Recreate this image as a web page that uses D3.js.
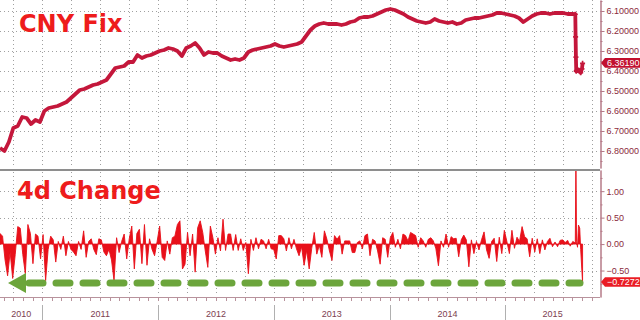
<!DOCTYPE html>
<html>
<head>
<meta charset="utf-8">
<script src="https://cdn.jsdelivr.net/npm/d3@7"></script>
<style>
  body { margin: 0; background: #fff; }
  svg { display: block; }
  text { font-family: "Liberation Sans", Arial, sans-serif; }
</style>
</head>
<body>
<svg id="chart" width="640" height="320"></svg>
<script>
// CNY fix, read every 14 days from 2010-08-20 up to the devaluation
const fixStart = "2010-08-20";
const fixStepDays = 14;
const fixValues = [
  6.785, 6.800, 6.755, 6.685, 6.675, 6.630, 6.635, 6.665, 6.645, 6.655,
  6.600, 6.585, 6.580, 6.575, 6.565, 6.555, 6.535, 6.515, 6.495, 6.490,
  6.480, 6.470, 6.465, 6.455, 6.445, 6.415, 6.385, 6.380, 6.375, 6.355,
  6.355, 6.320, 6.335, 6.325, 6.320, 6.310, 6.300, 6.295, 6.285, 6.290,
  6.300, 6.325, 6.285, 6.275, 6.260, 6.285, 6.320, 6.305, 6.310, 6.310,
  6.325, 6.335, 6.345, 6.340, 6.345, 6.335, 6.305, 6.295, 6.290, 6.285,
  6.280, 6.275, 6.265, 6.275, 6.280, 6.275, 6.270, 6.265, 6.255, 6.225,
  6.195, 6.175, 6.165, 6.160, 6.165, 6.165, 6.165, 6.170, 6.165, 6.155,
  6.150, 6.135, 6.130, 6.130, 6.125, 6.115, 6.105, 6.095, 6.090, 6.095,
  6.105, 6.115, 6.130, 6.140, 6.150, 6.155, 6.160, 6.155, 6.140, 6.150,
  6.155, 6.160, 6.155, 6.165, 6.160, 6.145, 6.140, 6.135, 6.135, 6.130,
  6.125, 6.120, 6.110, 6.110, 6.115, 6.120, 6.125, 6.135, 6.155, 6.140,
  6.125, 6.115, 6.110, 6.110, 6.115, 6.110, 6.110, 6.110, 6.115, 6.115
];
// devaluation days
const devalDates = ["2015-08-10", "2015-08-11", "2015-08-12", "2015-08-13", "2015-08-14",
  "2015-08-17", "2015-08-19", "2015-08-21", "2015-08-25", "2015-08-27", "2015-08-31", "2015-09-02"];
const devalFix = [6.1162, 6.2298, 6.3306, 6.4010, 6.3975,
  6.3969, 6.3963, 6.3966, 6.3987, 6.4085, 6.3893, 6.3619];

// 4d change, read every 8 days from 2010-08-20
const chgStart = "2010-08-20";
const chgStepDays = 8;
const chgValues = [
  0.20, 0.15, -0.30, -0.60, -0.15, -0.65, -0.20, 0.33, 0.30, -0.20,
  -0.56, 0.37, 0.20, -0.37, 0.19, 0.15, -0.28, 0.18, -0.69, -0.10,
  0.15, 0.08, -0.34, 0.05, -0.10, 0.15, -0.22, 0.05, -0.10, -0.15,
  -0.22, 0.05, -0.10, 0.25, -0.25, 0.05, 0.10, -0.10, -0.20, 0.10,
  0.08, -0.15, -0.22, -0.10, -0.30, -0.69, 0.12, -0.16, 0.05, 0.19,
  -0.28, 0.10, 0.34, -0.47, 0.20, 0.28, -0.37, 0.37, -0.40,
  0.10, -0.10, -0.22, 0.05, 0.34, -0.25, -0.31, 0.06, -0.19, 0.12,
  0.15, 0.37, 0.44, -0.47, -0.38, 0.22, -0.22, 0.19, -0.53, 0.31,
  0.44, 0.22, -0.13, -0.44, 0.34, 0.12, -0.19, 0.12, -0.13, 0.47,
  -0.12, 0.19, 0.19, -0.12, 0.18, -0.12, 0.10, -0.12, 0.03, -0.56,
  0.09, -0.12, 0.12, -0.09, 0.09, 0.06, -0.09, 0.09, -0.09, -0.10,
  -0.28, 0.16, 0.16, 0.10, -0.13, 0.12, -0.09, 0.09, -0.09,
  -0.22, -0.05, -0.40, -0.12, -0.47, -0.08, 0.22, -0.19, -0.02, -0.25,
  0.25, 0.09, -0.13, -0.31, 0.16, 0.09, 0.16, -0.19, 0.06, 0.06,
  0.06, -0.16, -0.16, 0.03, 0.06, -0.09, 0.16, 0.19, -0.22, 0.09,
  0.06, -0.13, -0.38, 0.12, 0.09, -0.25, 0.12, 0.22, -0.06, 0.09,
  -0.09, 0.19, 0.16, 0.06, 0.22, 0.19, 0.16, -0.06, 0.12, 0.06,
  -0.06, 0.09, 0.12, 0.06, -0.09, -0.41, 0.06, -0.06, 0.19, -0.06,
  0.14, 0.10, 0.11, -0.24, 0.08, 0.17, 0.08, -0.43, 0.08, -0.18,
  0.05, -0.11, 0.08, 0.23, -0.11, -0.27, 0.05, 0.11, -0.33, 0.13,
  -0.18, 0.26, 0.05, -0.18, 0.26, -0.08, 0.13, 0.05, 0.33, 0.14,
  0.10, -0.24, 0.11, -0.15, 0.10, -0.18, 0.08, -0.11, 0.05, 0.11,
  -0.05, 0.04, -0.05, 0.07, 0.08, 0.03, 0.07, -0.04, 0.05
];
const chgTailDates = ["2015-08-10", "2015-08-12", "2015-08-14", "2015-08-17", "2015-08-20",
  "2015-08-24", "2015-08-27", "2015-09-02"];
const chgTailValues = [0.02, 1.62, 0.05, -0.06, 0.36, 0.30, -0.10, -0.7272];

const fixTicks = [6.1, 6.2, 6.3, 6.4, 6.5, 6.6, 6.7, 6.8];
const chgTicks = [1.0, 0.5, 0.0, -0.5];
const domainStart = "2010-08-20", domainEnd = "2015-10-27";

const parse = d3.utcParse("%Y-%m-%d");
const fixData = fixValues.map((v, i) => ({ date: d3.utcDay.offset(parse(fixStart), i * fixStepDays), value: v }))
  .concat(devalDates.map((d, i) => ({ date: parse(d), value: devalFix[i] })));
const chgData = chgValues.map((v, i) => ({ date: d3.utcDay.offset(parse(chgStart), i * chgStepDays), value: v }))
  .concat(chgTailDates.map((d, i) => ({ date: parse(d), value: chgTailValues[i] })));

const svg = d3.select("#chart");
const right = 600;
const x = d3.scaleUtc().domain([parse(domainStart), parse(domainEnd)]).range([0, right]);
const yTop = d3.scaleLinear().domain([6.045, 6.885]).range([0, 168]);
const yBot = d3.scaleLinear().domain([-1.0, 1.4]).range([297, 170]);

const gridColor = "#a0a0a0";
const axisColor = "#b57a88";
const labelColor = "#8a2a3c";

// grid
const grid = svg.append("g");
const quarters = x.ticks(d3.utcMonth.every(3)).filter(d => x(d) > 1 && x(d) < right - 1);
grid.selectAll(".vt").data(quarters).join("line")
  .attr("x1", d => Math.round(x(d)) + 0.5).attr("x2", d => Math.round(x(d)) + 0.5)
  .attr("y1", 0).attr("y2", 168);
grid.selectAll(".vb").data(quarters).join("line").attr("class", "vb")
  .attr("x1", d => Math.round(x(d)) + 0.5).attr("x2", d => Math.round(x(d)) + 0.5)
  .attr("y1", 172).attr("y2", 296);
grid.selectAll(".ht").data(fixTicks).join("line").attr("class", "ht")
  .attr("x1", 0).attr("x2", right)
  .attr("y1", d => Math.round(yTop(d)) + 0.5).attr("y2", d => Math.round(yTop(d)) + 0.5);
grid.selectAll(".hb").data(chgTicks).join("line").attr("class", "hb")
  .attr("x1", 0).attr("x2", right)
  .attr("y1", d => Math.round(yBot(d)) + 0.5).attr("y2", d => Math.round(yBot(d)) + 0.5);
grid.selectAll("line").attr("stroke", gridColor).attr("stroke-width", 1).attr("stroke-dasharray", "1,3");

// titles
svg.append("text").attr("x", 19).attr("y", 32).text("CNY Fix")
  .style("font-family", "'DejaVu Sans', Verdana, sans-serif").style("font-weight", "bold")
  .style("font-size", "24px").attr("fill", "#ee1c1c");
svg.append("text").attr("x", 17).attr("y", 199).text("4d Change")
  .style("font-family", "'DejaVu Sans', Verdana, sans-serif").style("font-weight", "bold")
  .style("font-size", "24px").attr("fill", "#ee1c1c");

// top series
svg.append("path").datum(fixData)
  .attr("fill", "none").attr("stroke", "#c4173b").attr("stroke-width", 3.8)
  .attr("stroke-linejoin", "round")
  .attr("d", d3.line().x(d => x(d.date)).y(d => yTop(d.value)));
svg.append("g").selectAll("path").data(fixData.slice(fixValues.length)).join("path")
  .attr("transform", d => `translate(${x(d.date)},${yTop(d.value)})`)
  .attr("d", d3.symbol(d3.symbolCross, 14))
  .attr("fill", "#c4173b");

// bottom series
svg.append("clipPath").attr("id", "clipB").append("rect")
  .attr("x", 0).attr("y", 171).attr("width", right).attr("height", 126);
const gB = svg.append("g").attr("clip-path", "url(#clipB)");
gB.append("path").datum(chgData)
  .attr("fill", "#e8101a").attr("stroke", "#e8101a").attr("stroke-width", 0.9)
  .attr("d", d3.area().x(d => x(d.date)).y0(yBot(0)).y1(d => yBot(d.value)));

// panel separator and bottom axis
svg.append("line").attr("x1", 0).attr("x2", right).attr("y1", 170).attr("y2", 170)
  .attr("stroke", "#8e8e8e").attr("stroke-width", 2);
svg.append("line").attr("x1", 0).attr("x2", right).attr("y1", 297.5).attr("y2", 297.5)
  .attr("stroke", "#b8929c").attr("stroke-width", 1);
svg.append("g").selectAll("line").data(x.ticks(d3.utcMonth)).join("line")
  .attr("x1", d => Math.round(x(d)) + 0.5).attr("x2", d => Math.round(x(d)) + 0.5)
  .attr("y1", 298).attr("y2", 301).attr("stroke", "#b8929c");
const years = x.ticks(d3.utcYear);
svg.append("g").selectAll("line").data(years).join("line")
  .attr("x1", d => Math.round(x(d)) + 0.5).attr("x2", d => Math.round(x(d)) + 0.5)
  .attr("y1", 305).attr("y2", 320).attr("stroke", "#b0b0b0");
const yearSpans = [parse(domainStart)].concat(years).map(d => {
  const a = Math.max(0, x(d3.utcYear.floor(d)));
  const b = Math.min(right, x(d3.utcYear.offset(d3.utcYear.floor(d), 1)));
  return { label: d3.utcFormat("%Y")(d), cx: (a + b) / 2 };
});
svg.append("g").selectAll("text").data(yearSpans).join("text")
  .attr("x", d => d.cx).attr("y", 317).attr("text-anchor", "middle")
  .attr("fill", "#7d4050").style("font-size", "9px").text(d => d.label);

// right axes
function styleAxis(g) {
  g.select(".domain").attr("stroke", axisColor);
  g.selectAll(".tick line").attr("stroke", axisColor);
  g.selectAll(".tick text").attr("fill", labelColor).style("font-size", "9px")
    .style("font-family", "'Liberation Sans', Arial, sans-serif").attr("x", 6);
}
svg.append("g").attr("transform", `translate(${right + 0.5},0)`)
  .call(d3.axisRight(yTop).tickValues(d3.range(6.05, 6.86, 0.05)).tickSize(2).tickSizeOuter(0).tickFormat(""))
  .call(styleAxis);
svg.append("g").attr("transform", `translate(${right + 0.5},0)`)
  .call(d3.axisRight(yTop).tickValues(fixTicks).tickSize(4).tickSizeOuter(0).tickFormat(d3.format(".5f")))
  .call(styleAxis);
svg.append("g").attr("transform", `translate(${right + 0.5},0)`)
  .call(d3.axisRight(yBot).tickValues([1.25, 0.75, 0.25, -0.25, -0.75]).tickSize(2).tickSizeOuter(0).tickFormat(""))
  .call(styleAxis);
svg.append("g").attr("transform", `translate(${right + 0.5},0)`)
  .call(d3.axisRight(yBot).tickValues(chgTicks).tickSize(4).tickSizeOuter(0).tickFormat(d3.format(".2f")))
  .call(styleAxis);

// last value boxes
function valueBox(yPos, label, fill) {
  const g = svg.append("g").attr("transform", `translate(0,${yPos - 0.5})`);
  g.append("path").attr("d", "M601,0 L605,-4.8 L640,-4.8 L640,4.8 L605,4.8 Z").attr("fill", fill);
  g.append("text").attr("x", 607).attr("dy", "0.35em").attr("fill", "#fff")
    .style("font-size", "9px").text(label);
}
const lastFix = fixData[fixData.length - 1].value;
const lastChg = chgData[chgData.length - 1].value;
valueBox(yTop(lastFix), d3.format(".5f")(lastFix), "#c2102f");
valueBox(yBot(lastChg), d3.format(".4f")(lastChg), "#ea1c24");

// green arrow
const green = "#6ca53c";
svg.append("path").attr("d", "M8,283 L26,273 L26,293 Z").attr("fill", green);
svg.append("line").attr("x1", 29).attr("x2", 580).attr("y1", 283).attr("y2", 283)
  .attr("stroke", green).attr("stroke-width", 7).attr("stroke-linecap", "round")
  .attr("stroke-dasharray", "14,13");
</script>
</body>
</html>
